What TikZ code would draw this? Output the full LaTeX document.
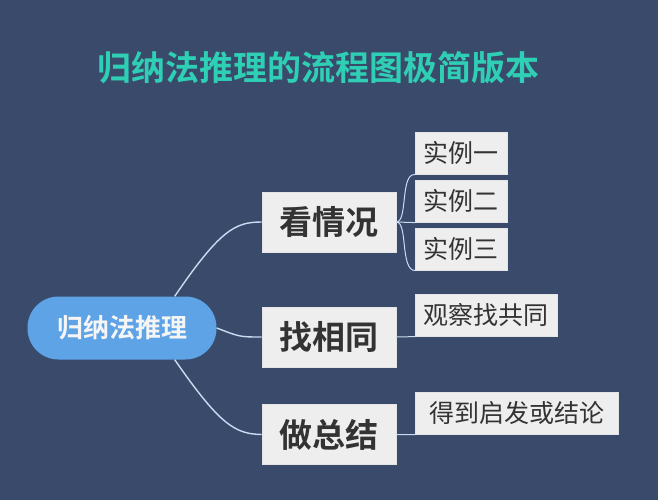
\documentclass[tikz,border=0pt]{standalone}
\usepackage{fontspec}
\newfontfamily\cjk{Noto Sans CJK SC}
\newfontfamily\cjkb{Noto Sans CJK SC Bold}
\definecolor{bg}{HTML}{3A4A6B}
\definecolor{ttl}{HTML}{2FCFB5}
\definecolor{pill}{HTML}{5EA3E6}
\definecolor{boxc}{HTML}{EEEEEE}
\definecolor{lnc}{HTML}{C8DDF2}
\begin{document}
\begin{tikzpicture}[x=1pt,y=-1pt,
  mid/.style={fill=boxc,draw=white!80!gray,line width=0.6pt,minimum width=134pt,minimum height=60pt,inner sep=0pt,font=\cjkb\fontsize{33}{33}\selectfont,text=black!80},
  leaf/.style={fill=boxc,draw=white!80!gray,line width=0.6pt,minimum height=42pt,inner sep=4pt,font=\cjk\fontsize{25}{25}\selectfont,text=black!80,anchor=north west},
  conn/.style={draw=lnc,line width=1.4pt}]
\fill[bg] (0,0) rectangle (658,500);
\useasboundingbox (0,0) rectangle (658,500);
\node (title) at (318,68) {\cjkb\fontsize{34}{34}\selectfont\color{ttl}归纳法推理的流程图极简版本};
\node[fill=pill,rounded corners=31pt,minimum width=189pt,minimum height=63pt,font=\cjkb\fontsize{26}{26}\selectfont,text=white!92!gray] (root) at (122,328) {归纳法推理};
\node[mid] (b1) at (329,222) {看情况};
\node[mid] (b2) at (329,337) {找相同};
\node[mid] (b3) at (329,434.5) {做总结};
\node[leaf,minimum width=92pt] (e1) at (415,132) {实例一};
\node[leaf,minimum width=92pt] (e2) at (415,180) {实例二};
\node[leaf,minimum width=92pt] (e3) at (415,228) {实例三};
\node[leaf,minimum width=142pt] (o) at (415,294) {观察找共同};
\node[leaf,minimum width=203pt] (d) at (415,392) {得到启发或结论};
\draw[conn] ([xshift=-2pt]root.north east) ++(-40pt,0) .. controls (220,230) and (235,222) .. (b1.west);
\draw[conn] (root.east) .. controls (240,337) .. (b2.west);
\draw[conn] ([xshift=-42pt]root.south east) .. controls (220,425) and (235,434) .. (b3.west);
\draw[conn,line width=1pt] (b1.east) .. controls (408,222) and (400,173) .. (e1.south west);
\draw[conn,line width=1pt] (b1.east) -- (e2.south west);
\draw[conn,line width=1pt] (b1.east) .. controls (408,222) and (400,270) .. (e3.south west);
\draw[conn,line width=1pt] (b2.east) -- (o.south west);
\draw[conn,line width=1pt] (b3.east) -- (d.south west);
\end{tikzpicture}
\end{document}
